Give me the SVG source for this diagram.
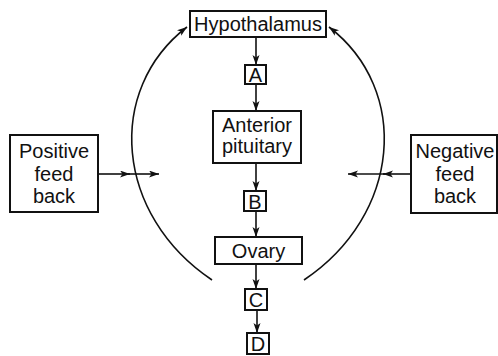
<svg xmlns="http://www.w3.org/2000/svg" width="498" height="356" viewBox="0 0 498 356">
<defs>
<marker id="ah" markerUnits="userSpaceOnUse" markerWidth="11" markerHeight="8" refX="10" refY="3.5" orient="auto">
<path d="M0,0 L10,3.5 L0,7 L2.5,3.5 Z" fill="#111"/>
</marker>
<style>
.box{fill:#fff;stroke:#111;stroke-width:2}
.t{font-family:"Liberation Sans",Arial,sans-serif;font-size:20px;fill:#111;text-anchor:middle}
.a{fill:none;stroke:#111;stroke-width:1.6;marker-end:url(#ah)}
</style>
</defs>
<rect width="498" height="356" fill="#fff"/>
<g id="connectors">
<line class="a" x1="256" y1="37" x2="256" y2="65"/>
<line class="a" x1="256" y1="84" x2="256" y2="111"/>
<line class="a" x1="256" y1="163" x2="256" y2="191"/>
<line class="a" x1="256" y1="211" x2="256" y2="237"/>
<line class="a" x1="256" y1="264" x2="256" y2="289"/>
<line class="a" x1="257" y1="310" x2="257" y2="333"/>
<path class="a" d="M212,280 C115,215 105,90 187,27"/>
<path class="a" d="M304,280 C401,215 411,90 329,27"/>
<line class="a" x1="98" y1="174" x2="130" y2="174"/>
<line class="a" x1="128" y1="174" x2="159" y2="174"/>
<line class="a" x1="411" y1="174" x2="383" y2="174"/>
<line class="a" x1="385" y1="174" x2="348" y2="174"/>
</g>
<g id="hypothalamus">
<rect class="box" x="190" y="11" width="136" height="26"/>
<text class="t" x="258" y="31">Hypothalamus</text>
</g>
<g id="A">
<rect class="box" x="245" y="65" width="21" height="19"/>
<text class="t" x="255.5" y="82">A</text>
</g>
<g id="anterior-pituitary">
<rect class="box" x="213" y="111" width="88" height="52"/>
<text class="t" x="257" y="132">Anterior</text>
<text class="t" x="257" y="153">pituitary</text>
</g>
<g id="B">
<rect class="box" x="244" y="191" width="22" height="20"/>
<text class="t" x="255" y="209">B</text>
</g>
<g id="ovary">
<rect class="box" x="215" y="237" width="87" height="27"/>
<text class="t" x="258.5" y="258">Ovary</text>
</g>
<g id="C">
<rect class="box" x="245" y="289" width="22" height="21"/>
<text class="t" x="256" y="307">C</text>
</g>
<g id="D">
<rect class="box" x="247" y="333" width="22" height="21"/>
<text class="t" x="258" y="351">D</text>
</g>
<g id="positive-feedback">
<rect class="box" x="10" y="135" width="88" height="77"/>
<text class="t" x="54" y="158">Positive</text>
<text class="t" x="54" y="181">feed</text>
<text class="t" x="54" y="203">back</text>
</g>
<g id="negative-feedback">
<rect class="box" x="411" y="135" width="86" height="78"/>
<text class="t" x="455" y="158">Negative</text>
<text class="t" x="455" y="181">feed</text>
<text class="t" x="455" y="203">back</text>
</g>
</svg>
